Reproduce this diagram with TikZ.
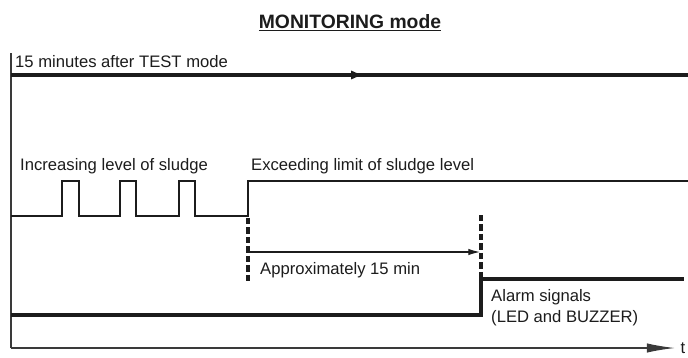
\documentclass[tikz,border=0pt]{standalone}
\usepackage{fontspec}
\setmainfont{Liberation Sans}
\usetikzlibrary{arrows.meta,positioning}
\definecolor{cInk}{HTML}{1C1C1C}
\definecolor{cInk2}{HTML}{3A3A3A}

\begin{document}
\begin{tikzpicture}[
  x=0.03cm,y=-0.03cm,
  font=\fontsize{14.2}{18}\selectfont,
  axis/.style={line width=1.2pt,color=cInk2},
  modeln/.style={line width=3.4pt,color=cInk},
  sig/.style={line width=1.8pt,color=cInk,line join=miter},
  alarm/.style={line width=3.2pt,color=cInk,line join=miter},
  tick/.style={line width=2.8pt,color=cInk,dash pattern=on 5.5pt off 2.6pt},
  ar/.style={-{Latex[length=10pt,width=5.5pt]},line width=0.9pt,color=cInk},
  lbl/.style={color=cInk,inner sep=0pt,anchor=base west},
]
\useasboundingbox (0,0) rectangle (688,358);

% ============================================================ title
\node[font=\fontsize{16.5}{18}\selectfont\bfseries,color=cInk,inner sep=0pt,anchor=base]
  (title) at (350,28) {\underline{MONITORING mode}};

% ============================================================ axes
\coordinate (org)  at (11,348);
\coordinate (otop) at (11,53);
\coordinate (tend) at (675,348);
\draw[axis] (otop) -- (org);
\draw[axis,-{Latex[length=24pt,width=8pt]}] (org) -- (tend);
\node[lbl] (tlab) at (680.5,353) {t};

% ============================================================ mode line
\coordinate (m0)   at (11,75);
\coordinate (mmid) at (364,75);
\coordinate (m1)   at (688,75);
\draw[modeln] (m0) -- (m1);
\draw[modeln,-{Latex[length=11pt,width=8pt]}] (m0) -- (mmid);
\node[lbl] (modetxt) at (15,67) {15 minutes after TEST mode};

% ============================================================ sludge level
\coordinate (slo)   at (11,216);
\coordinate (lim)   at (248,216);
\coordinate (limhi) at (248,181);
\coordinate (send)  at (688,181);
\draw[sig] (slo)
  foreach \a/\b in {62/79,120/136,179/195}{ -- (\a,216) -- (\a,181) -- (\b,181) -- (\b,216) }
  -- (lim) -- (limhi) -- (send);
\node[lbl] (incr) at (20,170) {Increasing level of sludge};
\node[lbl] (exceed) at (251,170) {Exceeding limit of sludge level};

% ============================================================ delay
\coordinate (d0a) at (248,218);
\coordinate (d0b) at (248,283);
\coordinate (d1a) at (481,215);
\coordinate (d1b) at (481,277);
\draw[tick] (d0a) -- (d0b);
\draw[tick] (d1a) -- (d1b);
\coordinate (w0) at (249,252);
\coordinate (w1) at (480,252);
\draw[ar] (w0) -- (w1);
\node[lbl] (approx) at (260,274) {Approximately 15 min};

% ============================================================ alarm
\coordinate (a0)  at (11,315);
\coordinate (a1)  at (481,315);
\coordinate (a2)  at (481,279);
\coordinate (a3)  at (684,279);
\draw[alarm] (a0) -- (a1) -- (a2) -- (a3);
\node[lbl,align=left,anchor=north west] (alm) at (491,289)
  {Alarm signals\\(LED and BUZZER)};

\end{tikzpicture}
\end{document}
